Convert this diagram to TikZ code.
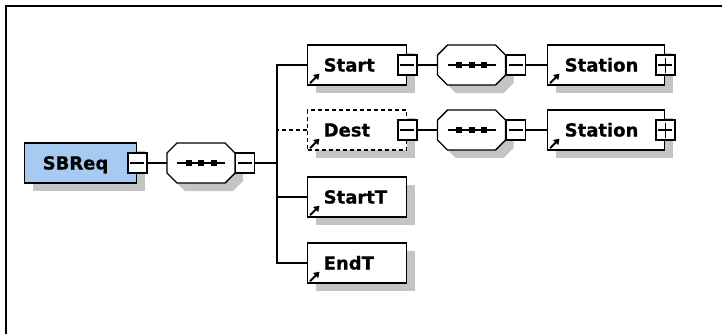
\documentclass[tikz,border=0pt]{standalone}
\usepackage{fontspec}
\setmainfont{DejaVu Sans}
\newfontfamily\labelfont[FakeBold=0.6]{DejaVu Sans Bold}
\usetikzlibrary{arrows.meta,shadows,calc}
\definecolor{elemblue}{HTML}{A6CAF0}
\definecolor{shadowgray}{HTML}{C4C4C4}

\tikzset{
  conn/.style={line width=1.4pt},
  optconn/.style={line width=1.4pt, dash pattern=on 4pt off 3pt},
  elem/.style={draw, line width=1.4pt, fill=white, anchor=west,
    minimum height=40pt, inner ysep=0pt, inner xsep=16pt, align=left,
    text height=13pt, text depth=0pt,
    font=\labelfont\fontsize{18pt}{20pt}\selectfont,
    drop shadow={shadow xshift=8pt, shadow yshift=-8pt, fill=shadowgray, opacity=1}},
  optelem/.style={elem, dash pattern=on 4pt off 3pt},
  toggle/.style={draw, fill=white, line width=1.2pt, minimum width=19pt,
    minimum height=20pt, inner sep=0pt},
  collapse/.style={toggle, path picture={
    \draw[line width=1.2pt] ([xshift=2.5pt]path picture bounding box.west) --
      ([xshift=-2.5pt]path picture bounding box.east);}},
  expand/.style={toggle, path picture={
    \draw[line width=1.2pt] ([xshift=2.5pt]path picture bounding box.west) --
      ([xshift=-2.5pt]path picture bounding box.east);
    \draw[line width=1.2pt] ([yshift=-2.5pt]path picture bounding box.north) --
      ([yshift=2.5pt]path picture bounding box.south);}},
}

% small reference arrow in the lower left corner of an element box
\newcommand\refmark[1]{%
  \draw[line width=2pt, -{Triangle[length=5.5pt,width=7pt]}]
    ([xshift=3pt,yshift=2.5pt]#1.south west) -- ++(9.5pt,9.5pt);}

% sequence compositor: octagon with a line and three dots
\newcommand\seqcomp[3]{%
  \node[minimum width=68pt, minimum height=40pt, inner sep=0pt, outer sep=0pt] (#1) at (#2,#3) {};
  \begin{scope}[shift={(#1.center)}]
    \fill[shadowgray, shift={(8,8)}] (-34,-10) -- (-24,-20) -- (24,-20) -- (34,-10)
      -- (34,10) -- (24,20) -- (-24,20) -- (-34,10) -- cycle;
    \draw[line width=1.4pt, fill=white] (-34,-10) -- (-24,-20) -- (24,-20) -- (34,-10)
      -- (34,10) -- (24,20) -- (-24,20) -- (-34,10) -- cycle;
    \draw[line width=1.2pt] (-24,0) -- (24,0);
    \foreach \dx in {-12.5,0,12.5}
      \fill (\dx-3,-2.8) rectangle (\dx+3,2.8);
  \end{scope}}

\begin{document}
\begin{tikzpicture}[x=1pt, y=-1pt]
  \useasboundingbox (0,0) rectangle (722,333);
  \draw[line width=2pt] (723,6) -- (6,6) -- (6,334);

  % root element
  \node[elem, fill=elemblue, inner xsep=18pt, text width=76pt] (SBReq) at (24,163) {SBReq};
  \node[collapse] (SBReqm) at (SBReq.east) {};
  \seqcomp{seq0}{201}{163}
  \node[collapse, anchor=west] (seq0m) at (seq0.east) {};
  \coordinate (bus) at (277,163);

  % children
  \node[elem, text width=67pt] (Start) at (307,65) {Start};
  \node[optelem, text width=67pt] (Dest) at (307,130) {Dest};
  \node[elem, text width=67pt] (StartT) at (307,197) {StartT};
  \node[elem, text width=67pt] (EndT) at (307,263) {EndT};
  \node[collapse] (Startm) at (Start.east) {};
  \node[collapse] (Destm) at (Dest.east) {};

  \seqcomp{seq1}{471.5}{65}
  \node[collapse, anchor=west] (seq1m) at (seq1.east) {};
  \seqcomp{seq2}{471.5}{130}
  \node[collapse, anchor=west] (seq2m) at (seq2.east) {};

  \node[elem, inner xsep=17pt, text width=83pt] (Station1) at (547,65) {Station};
  \node[expand] (Station1p) at (Station1.east) {};
  \node[elem, inner xsep=17pt, text width=83pt] (Station2) at (547,130) {Station};
  \node[expand] (Station2p) at (Station2.east) {};

  \refmark{Start}
  \refmark{Dest}
  \refmark{StartT}
  \refmark{EndT}
  \refmark{Station1}
  \refmark{Station2}

  % connectors
  \draw[conn] (SBReqm.east) -- (seq0.west);
  \draw[conn] (seq0m.east) -- (bus);
  \draw[conn] (Start.west) -| (bus);
  \draw[conn] (EndT.west) -| (bus);
  \draw[conn] (StartT.west) -- (StartT.west -| bus);
  \draw[optconn] (Dest.west) -- (Dest.west -| bus);
  \draw[conn] (Startm.east) -- (seq1.west);
  \draw[conn] (seq1m.east) -- (Station1.west);
  \draw[conn] (Destm.east) -- (seq2.west);
  \draw[conn] (seq2m.east) -- (Station2.west);
\end{tikzpicture}
\end{document}
